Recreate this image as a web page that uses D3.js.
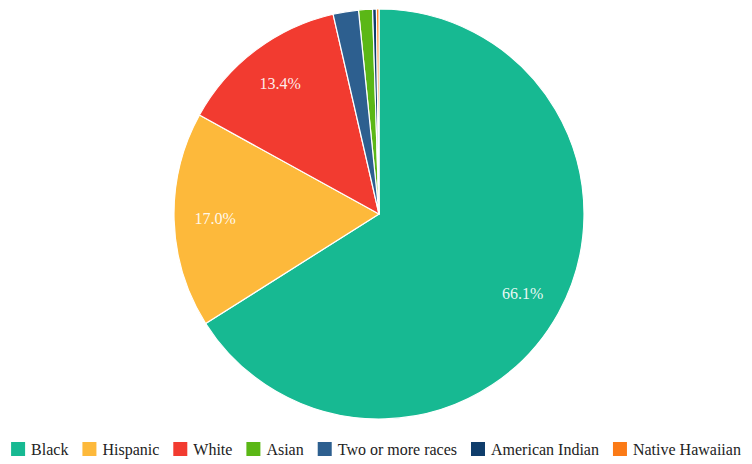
<!DOCTYPE html>
<html>
<head>
<meta charset="utf-8">
<script src="https://cdn.jsdelivr.net/npm/d3@7/dist/d3.min.js"></script>
<style>
  html, body { margin: 0; padding: 0; background: #fff; }
  svg { display: block; }
</style>
</head>
<body>
<svg id="chart" width="752" height="464"></svg>
<script>
// Data (legend order)
const categories = ["Black", "Hispanic", "White", "Asian", "Two or more races", "American Indian", "Native Hawaiian"];
const values = [66.1, 17.0, 13.4, 1.1, 2.0, 0.3, 0.2];
const colors = ["#17b992", "#fdb93b", "#f23b30", "#5bb716", "#2d5f8f", "#0f3d6b", "#fb7a16"];
// Order of slices clockwise from 12 o'clock
const sliceOrder = ["Black", "Hispanic", "White", "Two or more races", "Asian", "American Indian", "Native Hawaiian"];
const labelMin = 5; // show labels only for large slices

const W = 752, H = 464;
const cx = 379, cy = 214, R = 205;
const FONT = "'Times New Roman', Times, 'Liberation Serif', 'DejaVu Serif', 'Noto Serif', serif";
const svg = d3.select("#chart");

const data = categories.map((c, i) => ({ name: c, value: values[i], color: colors[i] }));
const color = d3.scaleOrdinal().domain(categories).range(colors);

const pie = d3.pie()
  .value(d => d.value)
  .sort((a, b) => sliceOrder.indexOf(a.name) - sliceOrder.indexOf(b.name));
const arcs = pie(data);
const arc = d3.arc().innerRadius(0).outerRadius(R);
const labelArc = d3.arc().innerRadius(R * 0.8).outerRadius(R * 0.8);

const g = svg.append("g").attr("transform", `translate(${cx},${cy})`);
g.selectAll("path.slice")
  .data(arcs)
  .join("path")
  .attr("class", "slice")
  .attr("d", arc)
  .attr("fill", d => color(d.data.name))
  .attr("stroke", "#ffffff")
  .attr("stroke-width", 1.2)
  .attr("stroke-linejoin", "round");

g.selectAll("text.lbl")
  .data(arcs.filter(d => d.data.value >= labelMin))
  .join("text")
  .attr("class", "lbl")
  .attr("transform", d => `translate(${labelArc.centroid(d)})`)
  .attr("text-anchor", "middle")
  .attr("dy", "0.35em")
  .attr("fill", "#ffffff")
  .attr("fill-opacity", 0.92)
  .style("font-family", FONT)
  .style("font-size", "16px")
  .text(d => d.data.value.toFixed(1) + "%");

// Legend
const legend = svg.append("g").attr("class", "legend");
const sym = 14, gapSym = 6, gapItem = 14, ly = 449;
let x = 0;
const items = legend.selectAll("g.item")
  .data(data)
  .join("g")
  .attr("class", "item");
items.append("rect")
  .attr("width", sym).attr("height", sym)
  .attr("y", ly - sym / 2)
  .attr("fill", d => color(d.name));
items.append("text")
  .attr("y", ly)
  .attr("dy", "0.35em")
  .attr("fill", "#222")
  .style("font-family", FONT)
  .style("font-size", "16px")
  .text(d => d.name);
items.each(function () {
  const it = d3.select(this);
  const tw = it.select("text").node().getComputedTextLength();
  it.select("rect").attr("x", x);
  it.select("text").attr("x", x + sym + gapSym);
  x += sym + gapSym + tw + gapItem;
});
const totalW = x - gapItem;
legend.attr("transform", `translate(${(W - totalW) / 2 + 0},0)`);
</script>
</body>
</html>
